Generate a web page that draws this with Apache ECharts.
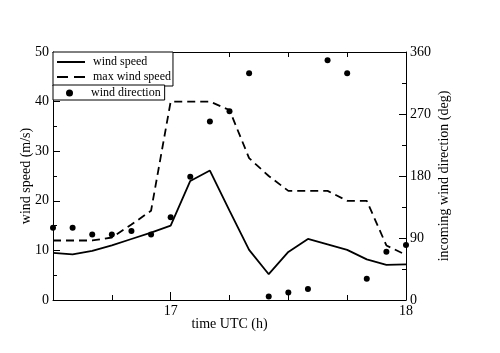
<!DOCTYPE html>
<html>
<head>
<meta charset="utf-8">
<script src="https://cdn.jsdelivr.net/npm/echarts@6/dist/echarts.min.js"></script>
<style>
html,body{margin:0;padding:0;background:#fff;}
#c{width:500px;height:353px;}
</style>
</head>
<body>
<div id="c"></div>
<script>
// time in decimal hours UTC (5-minute steps)
var times = [16.5, 16.5833, 16.6667, 16.75, 16.8333, 16.9167, 17.0, 17.0833, 17.1667, 17.25,
             17.3333, 17.4167, 17.5, 17.5833, 17.6667, 17.75, 17.8333, 17.9167, 18.0];
var windSpeed = [9.5, 9.2, 9.9, 11.0, 12.3, 13.6, 15.0, 24.0, 26.1, 18.0,
                 10.1, 5.2, 9.7, 12.3, 11.2, 10.1, 8.2, 7.1, 7.2];
var maxWindSpeed = [12.0, 12.0, 12.0, 12.6, 15.2, 18.0, 40.0, 40.0, 40.0, 38.3,
                    28.6, 25.0, 22.0, 22.0, 22.0, 20.0, 20.0, 11.0, 9.1];
var windDirection = [105, 105, 95, 95, 100, 95, 120, 179, 259, 274,
                     329, 5, 11, 16, 348, 329, 31, 70, 80];
var xMajorTicks = [17, 18];

function pairs(xs, ys){ return xs.map(function(x,i){ return [x, ys[i]]; }); }

var FONT = '"Liberation Serif", "DejaVu Serif", serif';
var black = '#000';

var chart = echarts.init(document.getElementById('c'), null, {renderer:'canvas'});

function xAxisBase(pos, major, labels){
  var a = {
    type:'value', position:pos, min:16.5, max:18, interval:0.25, gridIndex:0,
    splitLine:{show:false},
    axisLine:{show: major, lineStyle:{color:black, width:1}},
    axisTick:{show:true, inside:true, length: major ? 8 : 5, lineStyle:{color:black, width:1}},
    axisLabel:{show:false}
  };
  if (major){
    a.axisTick.customValues = xMajorTicks;
  }
  if (labels){
    a.axisLabel = {show:true, customValues: xMajorTicks, color:black, fontFamily:FONT, fontSize:14, margin:4,
      formatter:function(v){ return String(Math.round(v)); }};
    a.name = 'time UTC (h)';
    a.nameLocation = 'middle';
    a.nameGap = 17;
    a.nameMoveOverlap = false;
    a.nameTextStyle = {color:black, fontFamily:FONT, fontSize:14};
  }
  return a;
}

var solidIcon = 'path://M0,0h28v2h-28z';
var dashIcon = 'path://M0,0h11v2h-11z M17,0h11v2h-11z';

var option = {
  backgroundColor:'#fff',
  animation:false,
  grid:{left:53, right:94, top:52, bottom:53, containLabel:false},
  xAxis:[
    xAxisBase('bottom', true, true),
    xAxisBase('bottom', false, false),
    xAxisBase('top', true, false),
    xAxisBase('top', false, false)
  ],
  yAxis:[
    {type:'value', position:'left', min:0, max:50, interval:10,
     splitLine:{show:false},
     axisLine:{show:true, lineStyle:{color:black, width:1}},
     axisTick:{show:true, inside:true, length:7, lineStyle:{color:black}},
     minorTick:{show:true, splitNumber:2, length:4, lineStyle:{color:black}},
     axisLabel:{color:black, fontFamily:FONT, fontSize:14, margin:4},
     name:'wind speed (m/s)', nameLocation:'middle', nameGap:20, nameMoveOverlap:false,
     nameTextStyle:{color:black, fontFamily:FONT, fontSize:14}},
    {type:'value', position:'right', min:0, max:360, interval:90,
     splitLine:{show:false},
     axisLine:{show:true, lineStyle:{color:black, width:1}},
     axisTick:{show:true, inside:true, length:7, lineStyle:{color:black}},
     minorTick:{show:true, splitNumber:2, length:4, lineStyle:{color:black}},
     axisLabel:{color:black, fontFamily:FONT, fontSize:14, margin:4},
     name:'incoming wind direction (deg)', nameLocation:'middle', nameGap:31, nameRotate:90, nameMoveOverlap:false,
     nameTextStyle:{color:black, fontFamily:FONT, fontSize:14}}
  ],
  legend:[
    {data:[{name:'wind speed', icon:solidIcon}, {name:'max wind speed', icon:dashIcon}],
     orient:'vertical', left:53, top:52,
     backgroundColor:'#fff', borderColor:black, borderWidth:1, padding:[4,2,3,4], itemGap:3,
     itemWidth:28, itemHeight:2, selectedMode:false,
     itemStyle:{color:black, borderWidth:0},
     textStyle:{color:black, fontFamily:FONT, fontSize:12, padding:[0,0,0,3], lineHeight:12}},
    {data:[{name:'wind direction', icon:'circle'}], orient:'vertical', left:53, top:85,
     backgroundColor:'#fff', borderColor:black, borderWidth:1, padding:[2,4,1,13],
     itemWidth:7, itemHeight:7, selectedMode:false,
     itemStyle:{color:black, opacity:1},
     textStyle:{color:black, fontFamily:FONT, fontSize:12, padding:[0,0,0,13], lineHeight:12}}
  ],
  series:[
    {name:'wind speed', type:'line', xAxisIndex:0, yAxisIndex:0, data:pairs(times, windSpeed),
     showSymbol:false, symbol:'none', lineStyle:{color:black, width:1.8, type:'solid'}, itemStyle:{color:black}},
    {name:'max wind speed', type:'line', xAxisIndex:0, yAxisIndex:0, data:pairs(times, maxWindSpeed),
     showSymbol:false, symbol:'none', lineStyle:{color:black, width:1.8, type:[8,5]}, itemStyle:{color:black}},
    {name:'wind direction', type:'scatter', xAxisIndex:0, yAxisIndex:1, data:pairs(times, windDirection),
     symbol:'circle', symbolSize:6, itemStyle:{color:black, opacity:1}, clip:false}
  ]
};
chart.setOption(option);
</script>
</body>
</html>
